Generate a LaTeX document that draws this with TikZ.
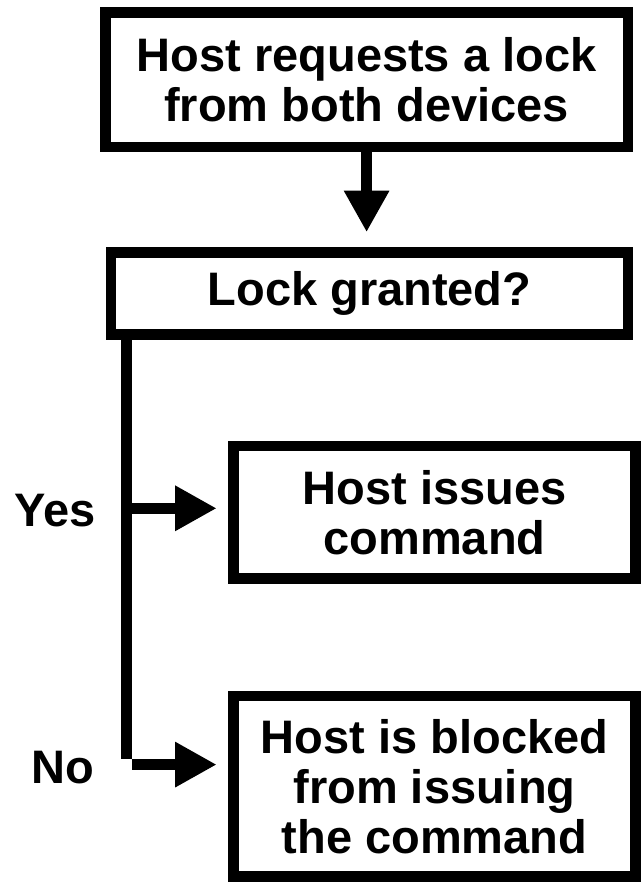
\documentclass[tikz,border=0pt]{standalone}
\usepackage{fontspec}
\setmainfont{Liberation Sans}
\usetikzlibrary{arrows.meta}
\begin{document}
\begin{tikzpicture}[x=1pt,y=-1pt,
  box/.style={draw, line width=10.7pt, outer sep=0pt, inner sep=0pt, align=center,
    font=\fontsize{47}{50}\selectfont\bfseries},
  flow/.style={line width=10.7pt, -{Triangle[length=41.5pt,width=42.5pt]}},
  wire/.style={line width=10.7pt},
  lbl/.style={font=\fontsize{47}{50}\selectfont\bfseries, inner sep=0pt}]
\useasboundingbox (0,0) rectangle (641,883);
\node[box, minimum width=522.5pt, minimum height=134.3pt] (b1) at (366.6,79.8) {Host requests a lock\\from both devices};
\node[box, minimum width=517pt, minimum height=82pt] (b2) at (369.5,293.7) {Lock granted?};
\node[box, minimum width=401.8pt, minimum height=132.7pt] (b3) at (434.5,512.3) {Host issues\\command};
\node[box, minimum width=401.8pt, minimum height=180.7pt] (b4) at (434.5,786.3) {Host is blocked\\from issuing\\the command};
\node[lbl] (yes) at (55,510.5) {Yes};
\node[lbl] (no) at (63.3,767.5) {No};
\coordinate (tTop) at (126.4,335);
\coordinate (tBot) at (126.4,759.3);
\coordinate (yesS) at (126.4,508.3);
\coordinate (noS) at (131.7,764.6);
\draw[flow, shorten >=20.5pt] (b1.south) -- (b1.south |- b2.north);
\draw[wire] (tTop) -- (tBot);
\draw[flow, shorten >=16.9pt] (yesS) -- (yesS -| b3.west);
\draw[flow, shorten >=16.9pt] (noS) -- (noS -| b4.west);
\end{tikzpicture}
\end{document}
